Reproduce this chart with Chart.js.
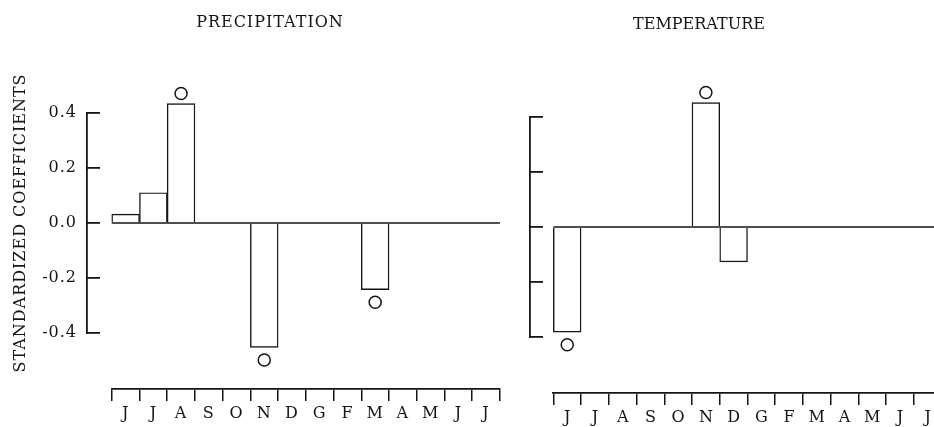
<!DOCTYPE html>
<html>
<head>
<meta charset="utf-8">
<title>Precipitation / Temperature coefficients</title>
<script src="https://cdn.jsdelivr.net/npm/chart.js@4.4.1/dist/chart.umd.min.js"></script>
<style>
    html, body { margin: 0; padding: 0; background: #fff; overflow: hidden; }
    body { width: 934px; height: 427px; position: relative; }
    #precip { position: absolute; left: 0; top: 0; }
    #temp { position: absolute; left: 445px; top: 4px; }
</style>
</head>
<body>
<canvas id="precip" width="540" height="427"></canvas>
<canvas id="temp" width="508" height="427"></canvas>
<script>
    // Data
    var months = ["J", "J", "A", "S", "O", "N", "D", "G", "F", "M", "A", "M", "J", "J"];
    var precipValues = [0.032, 0.11, 0.434, 0, 0, -0.452, 0, 0, 0, -0.242, 0, 0, 0, 0];
    var precipSignificant = [0, 0, 1, 0, 0, 1, 0, 0, 0, 1, 0, 0, 0, 0];
    var tempValues = [-0.382, 0, 0, 0, 0, 0.452, -0.127, 0, 0, 0, 0, 0, 0, 0];
    var tempSignificant = [1, 0, 0, 0, 0, 1, 0, 0, 0, 0, 0, 0, 0, 0];
    var yTicks = [-0.4, -0.2, 0, 0.2, 0.4];

    var ink = "#151515";
    var typewriter = "'DejaVu Serif', 'Liberation Serif', serif";

    // circle sits just past the end of a significant bar
    function markerData(values, significant) {
        return values.map(function (v, i) {
            if (!significant[i]) return null;
            return v > 0 ? v + 0.037 : v - 0.046;
        });
    }

    // Baseline along the month range only
    var zeroLine = {
        id: 'zeroLine',
        afterDatasetsDraw: function (chart) {
            var x = chart.scales.xMain, y = chart.scales.yMain;
            var py = y.getPixelForValue(0);
            var ctx = chart.ctx;
            ctx.save();
            ctx.strokeStyle = ink;
            ctx.lineWidth = 1.5;
            ctx.beginPath();
            ctx.moveTo(x.left, py);
            ctx.lineTo(x.right, py);
            ctx.stroke();
            ctx.restore();
        }
    };

    function makeChart(id, title, values, significant, cfg) {
        var ctx = document.getElementById(id).getContext("2d");
        var fitX = function (s) { s.height = 38; s.paddingLeft = 0; s.paddingRight = 0; };
        var fitY = function (s) { s.width = cfg.axisX; s.paddingTop = 0; s.paddingBottom = 0; };
        var titleTop = cfg.titleY - 9.6;
        // typewriter-like spacing
        var spacing = {
            id: 'spacing',
            beforeDraw: function (chart) { chart.ctx.letterSpacing = cfg.spacing + "px"; }
        };
        return new Chart(ctx, {
            type: "bar",
            data: {
                labels: months,
                datasets: [{
                    type: "bar",
                    data: values,
                    xAxisID: "xMain",
                    yAxisID: "yMain",
                    backgroundColor: "#fff",
                    borderColor: ink,
                    borderWidth: 1.4,
                    barPercentage: 1,
                    categoryPercentage: 1,
                    clip: false
                }, {
                    type: "line",
                    data: markerData(values, significant),
                    xAxisID: "xMain",
                    yAxisID: "yMain",
                    showLine: false,
                    pointStyle: "circle",
                    pointRadius: 6,
                    pointBorderWidth: 1.5,
                    pointBorderColor: ink,
                    pointBackgroundColor: "#fff",
                    clip: false
                }]
            },
            options: {
                responsive: false,
                animation: false,
                layout: { padding: 0 },
                plugins: {
                    legend: { display: false },
                    tooltip: { enabled: false },
                    title: {
                        display: true,
                        text: title,
                        color: ink,
                        font: { family: typewriter, size: 16, weight: "normal" },
                        padding: { top: titleTop, bottom: 56.8 - 19.2 - titleTop }
                    }
                },
                scales: {
                    xGap: {
                        type: "linear", position: "bottom", stack: "bottom",
                        stackWeight: cfg.gapWidth, weight: 0, display: false, min: 0, max: 1,
                        afterFit: fitX
                    },
                    xMain: {
                        type: "category", position: "bottom", stack: "bottom",
                        stackWeight: 387.3, weight: 1, offset: true,
                        grid: { offset: true, drawOnChartArea: false, drawTicks: true, tickLength: 12, color: ink, lineWidth: 1.5 },
                        border: { display: true, color: ink, width: 1.8 },
                        ticks: { color: ink, font: { family: typewriter, size: 16 }, padding: 3, autoSkip: false, maxRotation: 0 },
                        afterFit: fitX
                    },
                    xEnd: {
                        type: "linear", position: "bottom", stack: "bottom",
                        stackWeight: cfg.endWidth, weight: 2, display: false, min: 0, max: 1,
                        afterFit: fitX
                    },
                    yTop: {
                        type: "linear", position: "left", stack: "left",
                        stackWeight: 56.2, weight: 3, display: false, min: 0, max: 1,
                        afterFit: fitY
                    },
                    yMain: {
                        type: "linear", position: "left", stack: "left",
                        stackWeight: 220, weight: 2, min: -0.4, max: 0.4,
                        afterBuildTicks: function (s) {
                            s.ticks = yTicks.map(function (v) { return { value: v }; });
                        },
                        grid: { drawOnChartArea: false, drawTicks: true, tickLength: -13, color: ink, lineWidth: 1.8 },
                        border: { display: true, color: ink, width: 1.8 },
                        ticks: {
                            display: cfg.labels, color: ink, padding: 23,
                            font: { family: typewriter, size: 16 },
                            callback: function (v) { return Number(v).toFixed(1); }
                        },
                        title: {
                            display: cfg.labels, text: "STANDARDIZED COEFFICIENTS", color: ink,
                            font: { family: typewriter, size: 16 }, padding: { top: 11, bottom: 0 }
                        },
                        afterFit: fitY
                    },
                    yBot: {
                        type: "linear", position: "left", stack: "left",
                        stackWeight: 56, weight: 1, display: false, min: 0, max: 1,
                        afterFit: fitY
                    }
                }
            },
            plugins: [zeroLine, spacing]
        });
    }

    makeChart("precip", "PRECIPITATION", precipValues, precipSignificant,
        { labels: true, axisX: 87, gapWidth: 24.7, endWidth: 32.5, titleY: 23, spacing: 1 });
    makeChart("temp", "TEMPERATURE", tempValues, tempSignificant,
        { labels: false, axisX: 85, gapWidth: 23.3, endWidth: 3.9, titleY: 21, spacing: 0 });
</script>
</body>
</html>
